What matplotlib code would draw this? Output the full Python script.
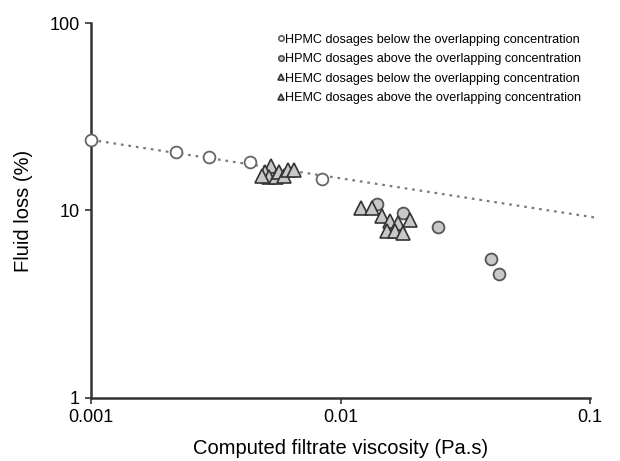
import matplotlib
matplotlib.use("Agg")
import matplotlib.pyplot as plt
import numpy as np

plt.rcParams["font.family"] = ["Liberation Sans", "DejaVu Sans"]

# HPMC below overlapping concentration (open circles)
hpmc_below_x = [0.001, 0.00219, 0.00297, 0.00434, 0.0084]
hpmc_below_y = [23.8, 20.5, 19.3, 18.2, 14.7]

# HPMC above overlapping concentration (grey circles)
hpmc_above_x = [0.0140, 0.0178, 0.0246, 0.0401, 0.0431]
hpmc_above_y = [10.8, 9.7, 8.2, 5.5, 4.6]

# HEMC below overlapping concentration
hemc_below_x = [0.00526, 0.00498, 0.00517, 0.00551, 0.00567, 0.00594, 0.00616, 0.00651, 0.00485]
hemc_below_y = [17.3, 16.0, 15.1, 15.1, 16.0, 15.3, 16.4, 16.4, 15.3]

# HEMC above overlapping concentration
hemc_above_x = [0.01208, 0.01337, 0.01466, 0.01579, 0.01700, 0.01899, 0.01536, 0.01653, 0.01780]
hemc_above_y = [10.3, 10.3, 9.35, 8.8, 8.57, 8.9, 7.78, 7.78, 7.59]

# trend line: y = a * (x/0.001)^b
trend_a = 23.8
trend_b = -0.205
trend_x = [0.001, 0.107]

labels = ["HPMC dosages below the overlapping concentration",
          "HPMC dosages above the overlapping concentration",
          "HEMC dosages below the overlapping concentration",
          "HEMC dosages above the overlapping concentration"]

fig = plt.figure(figsize=(6.2, 4.61), dpi=100)
ax = fig.add_axes([0.1468, 0.1367, 0.8048, 0.8134])

tx = np.array(trend_x)
ax.plot(tx, trend_a * (tx / 0.001) ** trend_b, color="#7a7a7a", ls=(0, (1.2, 2.2)),
        lw=1.6, zorder=1, clip_on=False)

ax.plot(hpmc_below_x, hpmc_below_y, "o", ms=8.5, mfc="white", mec="#666666", mew=1.3,
        ls="none", label=labels[0], zorder=3, clip_on=False)
ax.plot(hpmc_above_x, hpmc_above_y, "o", ms=8.5, mfc="#c8c8c8", mec="#555555", mew=1.3,
        ls="none", label=labels[1], zorder=3)
ax.plot(hemc_below_x, hemc_below_y, "^", ms=9.5, mfc="#c8c8c8", mec="#333333", mew=1.2,
        ls="none", label=labels[2], zorder=4)
ax.plot(hemc_above_x, hemc_above_y, "^", ms=9.5, mfc="#c8c8c8", mec="#333333", mew=1.2,
        ls="none", label=labels[3], zorder=4)

ax.set_xscale("log")
ax.set_yscale("log")
ax.set_xlim(0.001, 0.1)
ax.set_ylim(1, 100)
ax.set_xticks([0.001, 0.01, 0.1])
ax.set_xticklabels(["0.001", "0.01", "0.1"])
ax.set_yticks([1, 10, 100])
ax.set_yticklabels(["1", "10", "100"])
ax.minorticks_off()
ax.tick_params(labelsize=13, length=4, width=1.2, color="#333333", pad=4)

for s in ["top", "right"]:
    ax.spines[s].set_visible(False)
for s in ["left", "bottom"]:
    ax.spines[s].set_linewidth(1.8)
    ax.spines[s].set_color("#333333")

ax.set_xlabel("Computed filtrate viscosity (Pa.s)", fontsize=14.5, labelpad=9)
ax.set_ylabel("Fluid loss (%)", fontsize=14.5, labelpad=12)

leg = ax.legend(loc="upper left", bbox_to_anchor=(0.366, 0.985), frameon=False,
                fontsize=9.1, markerscale=0.45, handlelength=0.4, handletextpad=0.1,
                labelspacing=0.6, borderaxespad=0)

fig.savefig("out.png", dpi=100)
